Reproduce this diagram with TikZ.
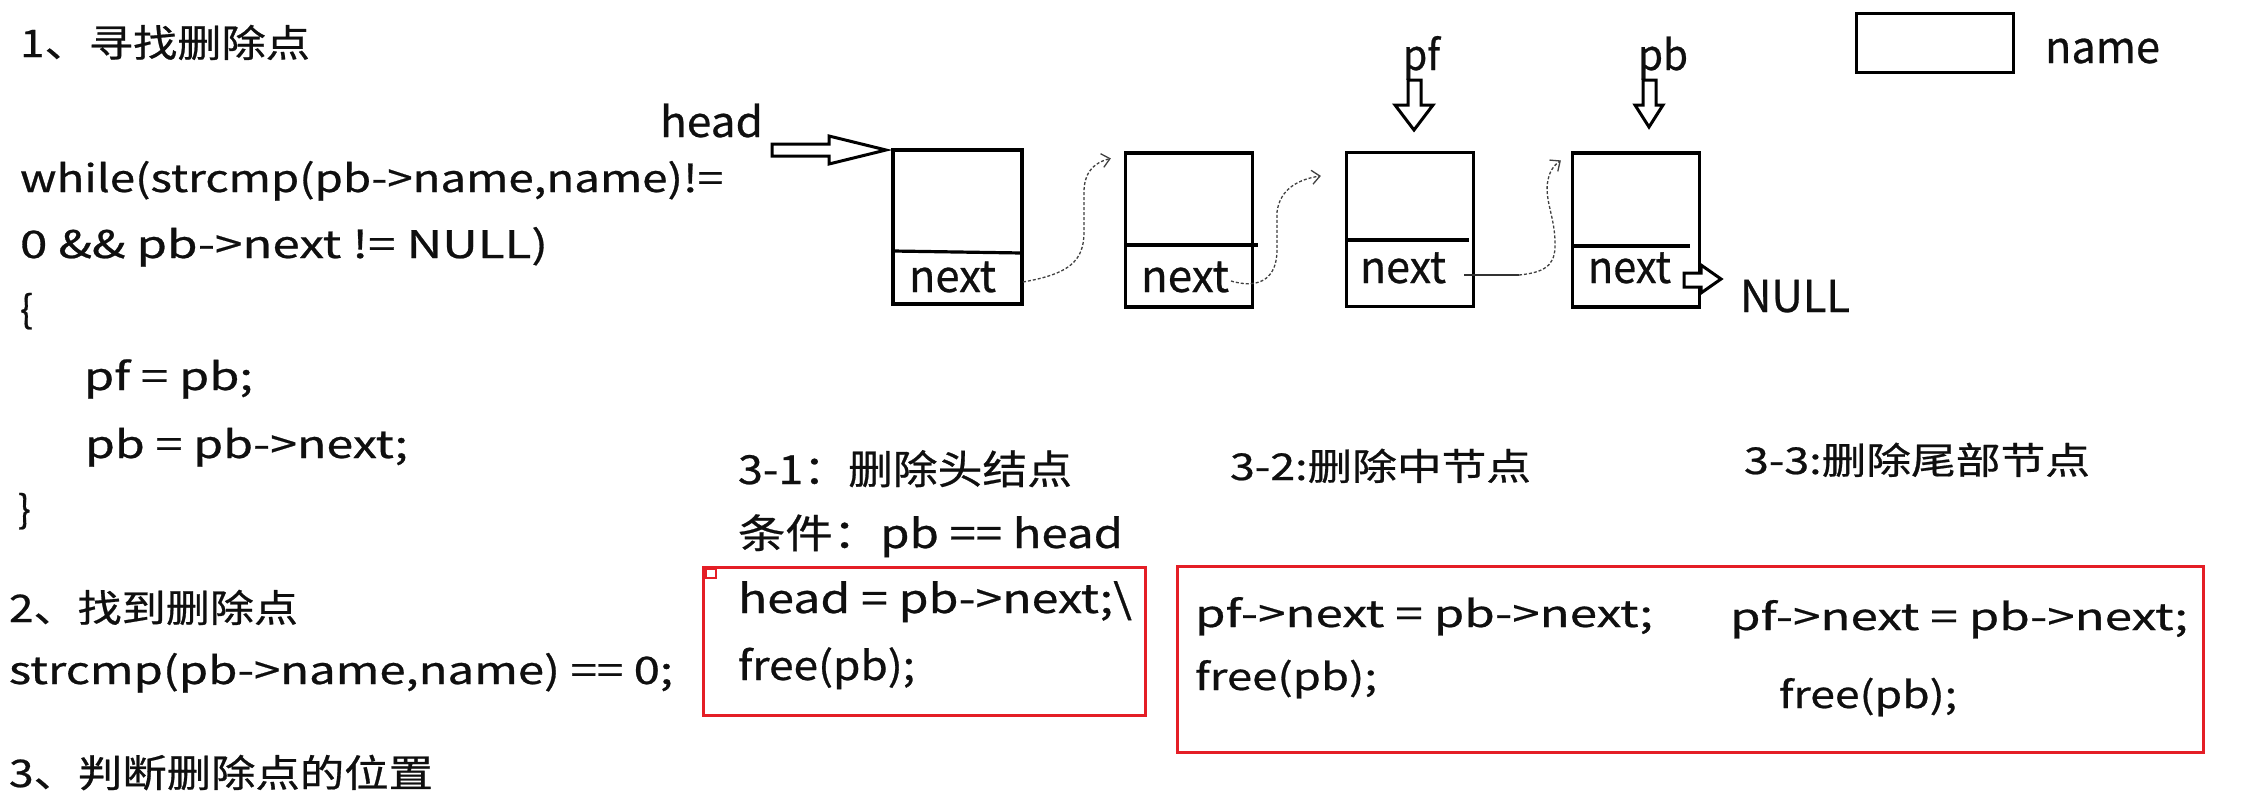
\documentclass[tikz,border=0pt]{standalone}
\usepackage{fontspec}
\setmainfont{Noto Sans CJK SC}[FakeBold=0.6,UprightFont=*,BoldFont=*]
\usepackage{graphicx}
\usetikzlibrary{arrows.meta,calc}
\definecolor{redbox}{RGB}{228,30,38}
\definecolor{ink}{RGB}{15,15,15}
\newcommand\fitw[3]{\resizebox{#1pt}{\height}{\fontsize{#2pt}{#2pt}\selectfont\bfseries #3}}
\begin{document}
\begin{tikzpicture}[x=1pt,y=-1pt,
  txt/.style={anchor=base west,inner sep=0pt,outer sep=0pt,text=ink},
  listnode/.style={draw=black,line width=3.2pt,rectangle,inner sep=0pt,minimum width=127pt,minimum height=154pt},
  divider/.style={line width=3.2pt},
  blockarrow/.style={draw=black,fill=white,line width=3pt,line join=miter},
  link/.style={draw=black!75,line width=1.3pt,dash pattern=on 3pt off 2pt,-{Straight Barb[length=8pt,width=14pt,line width=1.3pt]}},
  solidlink/.style={draw=black!80,line width=1.3pt},
  redframe/.style={draw=redbox,line width=3pt}]
\useasboundingbox (0,0) rectangle (2251,807);
\fill[white] (0,0) rectangle (2251,807);

% ---------- left column ----------
\node[txt] (t1) at (20,57) {\fitw{290}{38}{1、寻找删除点}};
\node[txt] (t2) at (20,192) {\fitw{703}{38}{while(strcmp(pb->name,name)!=}};
\node[txt] (t3) at (20,258) {\fitw{528}{38}{0 \&\& pb->next != NULL)}};
\node[txt] (t4) at (20,323) {\fontsize{38pt}{38pt}\selectfont\bfseries\{};
\node[txt] (t5) at (84,390) {\fitw{169}{38}{pf = pb;}};
\node[txt] (t6) at (85,458) {\fitw{323}{38}{pb = pb->next;}};
\node[txt] (t7) at (18,523) {\fontsize{38pt}{38pt}\selectfont\bfseries\}};
\node[txt] (t8) at (9,622) {\fitw{289}{38}{2、找到删除点}};
\node[txt] (t9) at (9,684) {\fitw{664}{38}{strcmp(pb->name,name) == 0;}};
\node[txt] (t10) at (9,787) {\fitw{424}{38}{3、判断删除点的位置}};

% ---------- list diagram ----------
\node[txt] (lhead) at (660,137) {\fitw{103}{42}{head}};
\draw[blockarrow] (772,144) -- (829,144) -- (829,136) -- (886,150) -- (829,164) -- (829,156) -- (772,156) -- cycle;

\node[listnode,minimum width=129pt] (b1) at (957.5,227) {};
\node[listnode] (b2) at (1189,230) {};
\node[listnode] (b3) at (1410,229.5) {};
\node[listnode] (b4) at (1636,230) {};
\draw[divider] (893,251) -- (1022,253);
\draw[divider] (1125,245) -- (1258,245);
\draw[divider] (1347,240) -- (1469,240);
\draw[divider] (1573,246) -- (1690,246);

\node[txt] (n1) at (909,292) {\fitw{87}{44}{next}};
\node[txt] (n2) at (1141,292) {\fitw{88}{44}{next}};
\node[txt] (n3) at (1360,283) {\fitw{86}{44}{next}};
\node[txt] (n4) at (1588,283) {\fitw{83}{44}{next}};

\node[txt] (lpf) at (1403,70) {\fitw{37}{42}{pf}};
\node[txt] (lpb) at (1638,70) {\fitw{50}{42}{pb}};
\draw[blockarrow] (1408,80) -- (1421,80) -- (1421,105) -- (1433,105) -- (1414,130) -- (1395,105) -- (1408,105) -- cycle;
\draw[blockarrow] (1643,80) -- (1656,80) -- (1656,105) -- (1663,105) -- (1649,127) -- (1635,105) -- (1643,105) -- cycle;

% next links
\draw[link] ($(n1.base east)+(27,-10)$) .. controls (1068,274) and (1084,262) .. (1084,232) -- (1084,190) .. controls (1085,170) and (1096,162) .. ($(b2.north west)+(-13,7)$);
\draw[link] ($(n2.base east)+(2,-11)$) .. controls (1262,290) and (1277,276) .. (1277,250) -- (1277,212) .. controls (1280,188) and (1300,179) .. ($(b3.north west)+(-24,25)$);
\draw[solidlink] ($(n3.base east)+(18,-8)$) -- ++(55,0) coordinate (c3j);
\draw[link] (c3j) .. controls (1550,272) and (1556,262) .. (1555,240) .. controls (1554,215) and (1544,198) .. (1548,180) .. controls (1550,169) and (1556,164) .. ($(b4.north west)+(-10,9)$);

% NULL
\draw[blockarrow] (1684,273) -- (1701,273) -- (1701,265) -- (1721,279) -- (1701,293) -- (1701,287) -- (1684,287) -- cycle;
\node[txt] (lnull) at (1740,312) {\fitw{110}{44}{NULL}};

% legend
\node[draw=black,line width=3pt,rectangle,inner sep=0pt,minimum width=157pt,minimum height=59pt] (leg) at (1934.5,42.5) {};
\node[txt] (lname) at (2045,63) {\fitw{115}{44}{name}};

% ---------- cases ----------
\node[txt] (h31) at (738,484) {\fitw{334}{40}{3-1：删除头结点}};
\node[txt] (c31) at (738,548) {\fitw{385}{40}{条件：pb == head}};
\draw[redframe] (703,567) rectangle (1145,715);
\draw[draw=redbox,line width=1.5pt] (706,569) rectangle (716,578);
\node[txt] (s31a) at (738,613) {\fitw{394}{40}{head = pb->next;\textbackslash}};
\node[txt] (s31b) at (738,680) {\fitw{177}{40}{free(pb);}};

\node[txt] (h32) at (1230,480) {\fitw{301}{37}{3-2:删除中节点}};
\node[txt] (h33) at (1744,474) {\fitw{346}{37}{3-3:删除尾部节点}};
\draw[redframe] (1177,566) rectangle (2203,752);
\node[txt] (s32a) at (1195,627) {\fitw{458}{37}{pf->next = pb->next;}};
\node[txt] (s32b) at (1195,690) {\fitw{182}{37}{free(pb);}};
\node[txt] (s33a) at (1730,630) {\fitw{458}{37}{pf->next = pb->next;}};
\node[txt] (s33b) at (1779,708) {\fitw{178}{37}{free(pb);}};
\end{tikzpicture}
\end{document}
